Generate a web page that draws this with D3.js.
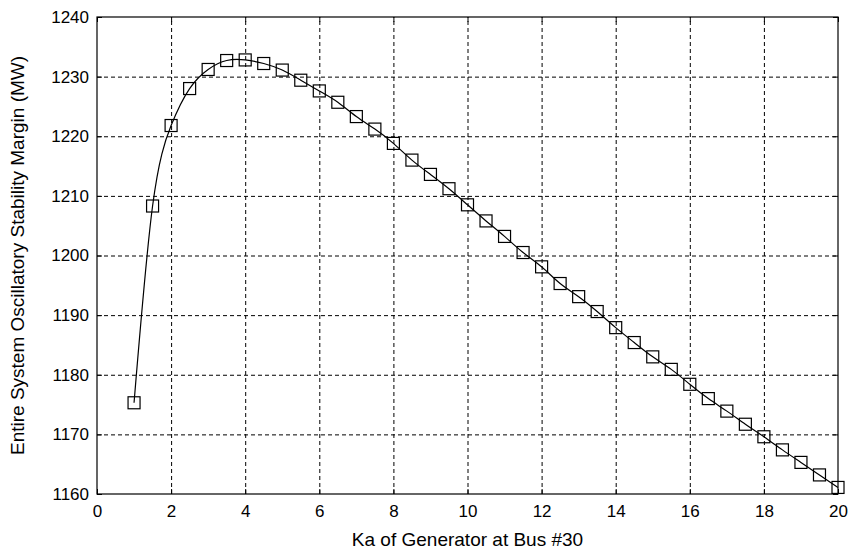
<html>
<head>
<script src="https://d3js.org/d3.v7.min.js"></script>
<style>
  body { margin: 0; background: #fff; }
  text { font-family: "Liberation Sans", Arial, sans-serif; fill: #000; }
  .grid line { stroke: #000; stroke-dasharray: 4,3; stroke-width: 1; }
  .grid .domain { stroke: none; }
</style>
</head>
<body>
<svg id="chart" width="853" height="554"></svg>
<script>
// Ka values (x) and oscillatory stability margin (MW)
const ka = [1, 1.5, 2, 2.5, 3, 3.5, 4, 4.5, 5, 5.5, 6, 6.5, 7, 7.5, 8, 8.5, 9, 9.5, 10,
            10.5, 11, 11.5, 12, 12.5, 13, 13.5, 14, 14.5, 15, 15.5, 16, 16.5, 17, 17.5,
            18, 18.5, 19, 19.5, 20];
const margin_mw = [1175.3, 1208.3, 1221.8, 1228.0, 1231.2, 1232.7, 1232.8, 1232.2, 1231.1,
                   1229.4, 1227.6, 1225.7, 1223.3, 1221.2, 1218.8, 1216.0, 1213.6, 1211.2,
                   1208.5, 1205.8, 1203.2, 1200.5, 1198.1, 1195.3, 1193.1, 1190.6, 1187.9,
                   1185.4, 1183.0, 1180.9, 1178.4, 1176.0, 1173.9, 1171.7, 1169.6, 1167.4,
                   1165.3, 1163.2, 1161.1];
const xTicks = [0, 2, 4, 6, 8, 10, 12, 14, 16, 18, 20];
const yTicks = [1160, 1170, 1180, 1190, 1200, 1210, 1220, 1230, 1240];

const data = ka.map((k, i) => ({ x: k, y: margin_mw[i] }));

const svg = d3.select("#chart");
const margin = { top: 17, right: 15, bottom: 60, left: 97 };
const width = 853 - margin.left - margin.right;
const height = 554 - margin.top - margin.bottom;

const x = d3.scaleLinear().domain([0, 20]).range([0, width]);
const y = d3.scaleLinear().domain([1160, 1240]).range([height, 0]);

const g = svg.append("g").attr("transform", `translate(${margin.left},${margin.top})`);

// dashed grid
g.append("g").attr("class", "grid")
  .attr("transform", `translate(0,${height})`)
  .call(d3.axisBottom(x).tickValues(xTicks.slice(1, -1)).tickSize(-height).tickFormat(""));
g.append("g").attr("class", "grid")
  .call(d3.axisLeft(y).tickValues(yTicks.slice(1, -1)).tickSize(-width).tickFormat(""));

// inward ticks on all sides
const tickLen = 5;
g.append("g").attr("transform", `translate(0,${height})`)
  .call(d3.axisBottom(x).tickValues(xTicks).tickSize(-tickLen).tickPadding(11))
  .call(a => a.select(".domain").remove())
  .selectAll("text").style("font-size", "17px");
g.append("g")
  .call(d3.axisTop(x).tickValues(xTicks).tickSize(-tickLen).tickFormat(""))
  .call(a => a.select(".domain").remove());
g.append("g")
  .call(d3.axisLeft(y).tickValues(yTicks).tickSize(-tickLen).tickPadding(8).tickFormat(d3.format("d")))
  .call(a => a.select(".domain").remove())
  .selectAll("text").style("font-size", "17px");
g.append("g").attr("transform", `translate(${width},0)`)
  .call(d3.axisRight(y).tickValues(yTicks).tickSize(-tickLen).tickFormat(""))
  .call(a => a.select(".domain").remove());

g.selectAll(".tick line").filter(function () { return !this.closest(".grid"); })
  .attr("stroke", "#000");

// box
g.append("rect").attr("width", width).attr("height", height)
  .attr("fill", "none").attr("stroke", "#000").attr("stroke-width", 1.2);

// curve
const line = d3.line().x(d => x(d.x)).y(d => y(d.y)).curve(d3.curveNatural);
g.append("path").datum(data)
  .attr("fill", "none").attr("stroke", "#000").attr("stroke-width", 1.2)
  .attr("d", line);

// square markers
const s = 12;
g.selectAll("rect.marker").data(data).join("rect")
  .attr("class", "marker")
  .attr("x", d => x(d.x) - s / 2).attr("y", d => y(d.y) - s / 2)
  .attr("width", s).attr("height", s)
  .attr("fill", "none").attr("stroke", "#000").attr("stroke-width", 1.2);

// axis titles
svg.append("text")
  .attr("x", margin.left + width / 2).attr("y", 546)
  .attr("text-anchor", "middle").style("font-size", "19px")
  .text("Ka of Generator at Bus #30");
svg.append("text")
  .attr("transform", `translate(24,${margin.top + height / 2}) rotate(-90)`)
  .attr("text-anchor", "middle").style("font-size", "19px")
  .text("Entire System Oscillatory Stability Margin (MW)");
</script>
</body>
</html>
